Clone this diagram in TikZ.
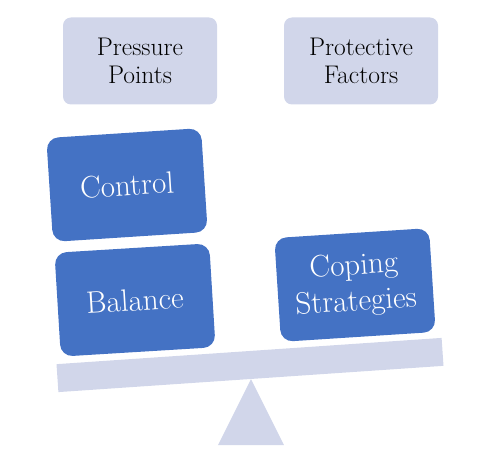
\documentclass[tikz,border=0pt]{standalone}
\usepackage{xcolor}
\definecolor{lightlav}{HTML}{D1D6EA}
\definecolor{officeblue}{HTML}{4472C4}
\begin{document}
\begin{tikzpicture}[x=1pt, y=-1pt,
  factor/.style={rectangle, rounded corners=8pt, fill=lightlav, draw=none, minimum width=154pt, minimum height=87pt, align=center, font=\fontsize{25.5}{28}\selectfont},
  weight/.style={rectangle, rounded corners=12pt, fill=officeblue, draw=none, text=white, minimum width=155pt, minimum height=104pt, align=center, font=\fontsize{31}{36}\selectfont},
  beambar/.style={rectangle, fill=lightlav, draw=none, minimum width=386pt, minimum height=28pt, inner sep=0pt}]

\useasboundingbox (0, 0) rectangle (479, 465);

\node[factor] (pressure) at (140, 61) {Pressure\\Points};
\node[factor] (protective) at (361, 61) {Protective\\Factors};

\node[beambar, rotate=3.9] (beam) at (250, 365) {};
\fill[lightlav] (beam.south) -- ++(-33, 66) -- ++(66, 0) -- cycle;

\node[weight, rotate=3.7] (control) at (127, 185) {Control};
\node[weight, rotate=3.5] (balance) at (135, 300) {Balance};
\node[weight, rotate=3.7] (coping) at (355, 285) {Coping\\Strategies};
\end{tikzpicture}
\end{document}
